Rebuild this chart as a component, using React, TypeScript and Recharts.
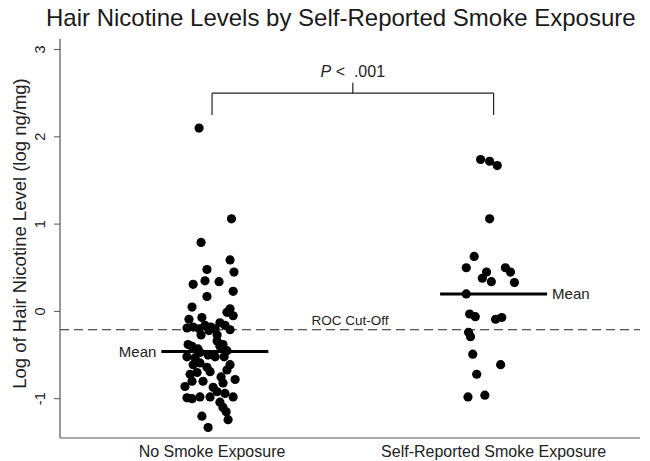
import React from 'react';
import { ScatterChart, Scatter, XAxis, YAxis, ReferenceLine } from 'recharts';

const FONT = '"Liberation Sans", Arial, Helvetica, sans-serif';

const title = 'Hair Nicotine Levels by Self-Reported Smoke Exposure';
const yAxisTitle = 'Log of Hair Nicotine Level (log ng/mg)';
const categories = ['No Smoke Exposure', 'Self-Reported Smoke Exposure'];
const yTicks = [-1, 0, 1, 2, 3];

// Group 1: No smoke exposure (log values and horizontal jitter)
const noExposureValues = [
  2.1, 1.06, 0.79, 0.59, 0.48, 0.45, 0.31, 0.35, 0.34, 0.23, 0.17, 0.05, 0.03, -0.01, -0.05, -0.09, -0.07,
  -0.19, -0.18, -0.2, -0.16, -0.22, -0.13, -0.2, -0.21, -0.16, -0.27, -0.27, -0.18,
  -0.34, -0.38, -0.38, -0.4, -0.43, -0.4, -0.45, -0.47, -0.5, -0.52, -0.53, -0.52, -0.52, -0.59, -0.61, -0.61,
  -0.64, -0.67, -0.72, -0.7, -0.69, -0.75, -0.78, -0.86, -0.8, -0.8, -0.87, -0.82, -0.92, -0.94, -0.99, -1.0,
  -0.98, -0.98, -0.98, -1.04, -1.1, -1.15, -1.2, -1.24, -1.33,
];
const noExposureJitter = [
  -0.046, 0.069, -0.039, 0.064, -0.018, 0.078, -0.067, -0.025, 0.025, 0.075, -0.018, -0.071, 0.064, 0.053, 0.075, -0.082, -0.036,
  -0.089, -0.067, -0.046, -0.025, -0.011, 0.028, 0.011, 0.064, 0.046, -0.039, 0.018, -0.004,
  0.018, 0.039, -0.085, -0.071, -0.05, 0.028, 0.053, -0.043, -0.014, 0.011, -0.06, -0.089, 0.043, -0.043, -0.067, 0.064,
  -0.018, 0.053, -0.078, -0.053, -0.007, 0.032, 0.082, -0.096, -0.071, -0.032, 0.004, 0.039, 0.018, 0.046, -0.089, -0.071,
  -0.043, -0.007, 0.075, 0.028, 0.039, 0.05, -0.036, 0.057, -0.014,
];

// Group 2: Self-reported smoke exposure
const exposedValues = [
  1.74, 1.72, 1.67, 1.06, 0.63, 0.5, 0.45, 0.5, 0.45, 0.38, 0.34, 0.33,
  0.2, -0.03, -0.06, -0.09, -0.07, -0.24, -0.29, -0.49, -0.61, -0.72, -0.98, -0.96,
];
const exposedJitter = [
  -0.046, -0.014, 0.013, -0.014, -0.069, -0.097, -0.025, 0.042, 0.06, -0.04, -0.008, 0.074,
  -0.097, -0.085, -0.065, 0.007, 0.029, -0.089, -0.082, -0.074, 0.025, -0.06, -0.091, -0.031,
];

const groupMeans = [-0.46, 0.2];
const meanCenters = [1.01, 2.0];
const meanHalfWidth = 0.19;
const rocCutOff = -0.21;
const bracketLevel = 2.5;
const bracketLegBottom = 2.25;
const bracketTickTop = 2.62;
const pValue = '.001';

const groups = [
  { values: noExposureValues, jitter: noExposureJitter },
  { values: exposedValues, jitter: exposedJitter },
];

const data = groups.flatMap((g, gi) =>
  g.values.map((v, i) => ({ x: gi + 1 + g.jitter[i], y: v }))
);

const Dot = (props: any) => <circle cx={props.cx} cy={props.cy} r={4.6} fill="#000" />;

const YTick = (props: any) => {
  const { x, y, payload } = props;
  const cx = x - 12;
  return (
    <text
      x={cx}
      y={y}
      transform={`rotate(-90, ${cx}, ${y})`}
      textAnchor="middle"
      dy="0.36em"
      fontSize={14.5}
      fill="#222"
      fontFamily={FONT}
    >
      {payload.value}
    </text>
  );
};

const YTitle = (props: any) => {
  const vb = props.viewBox || {};
  const cx = (vb.x ?? 0) + 19;
  const cy = (vb.y ?? 0) + (vb.height ?? 0) / 2 - 5;
  return (
    <text
      x={cx}
      y={cy}
      transform={`rotate(-90, ${cx}, ${cy})`}
      textAnchor="middle"
      dy="0.36em"
      fontSize={18.5}
      fill="#222"
      fontFamily={FONT}
    >
      {yAxisTitle}
    </text>
  );
};

const PLabel = (props: any) => {
  const vb = props.viewBox || {};
  const cx = (vb.x ?? 0) + (vb.width ?? 0) / 2;
  const cy = (vb.y ?? 0) - 6;
  return (
    <text x={cx} y={cy} textAnchor="middle" fontSize={16} fill="#222" fontFamily={FONT}>
      <tspan fontStyle="italic">P</tspan>
      <tspan>{'\u00a0<\u00a0\u00a0' + pValue}</tspan>
    </text>
  );
};

export default function App() {
  return (
    <div
      style={{
        position: 'absolute',
        left: 0,
        top: 0,
        width: 650,
        height: 461,
        background: '#fff',
        fontFamily: FONT,
      }}
    >
      <div
        style={{
          position: 'absolute',
          left: 46,
          top: 4,
          fontSize: 24,
          lineHeight: '28px',
          color: '#1a1a1a',
          whiteSpace: 'nowrap',
        }}
      >
        {title}
      </div>
      <ScatterChart width={650} height={461} margin={{ top: 39, right: 10, bottom: 0, left: 0 }}>
        <XAxis
          type="number"
          dataKey="x"
          domain={[0.46, 2.52]}
          ticks={[1, 2]}
          tickFormatter={(v: number) => categories[Math.round(v) - 1] ?? ''}
          tickLine={false}
          axisLine={{ stroke: '#555', strokeWidth: 1.2 }}
          tick={{ fontSize: 16, fill: '#222', fontFamily: FONT }}
          height={23}
          allowDataOverflow
        />
        <YAxis
          type="number"
          dataKey="y"
          domain={[-1.45, 3.12]}
          ticks={yTicks}
          tick={<YTick />}
          tickSize={6}
          tickLine={{ stroke: '#555' }}
          axisLine={{ stroke: '#555', strokeWidth: 1.2 }}
          width={60}
          allowDataOverflow
          label={<YTitle />}
        />
        <ReferenceLine
          y={rocCutOff}
          stroke="#222"
          strokeWidth={1.2}
          strokeDasharray="9 5"
          label={{ value: 'ROC Cut-Off', position: 'top', fontSize: 13.5, fill: '#222', fontFamily: FONT, offset: 5 }}
        />
        <ReferenceLine
          segment={[
            { x: meanCenters[0] - meanHalfWidth, y: groupMeans[0] },
            { x: meanCenters[0] + meanHalfWidth, y: groupMeans[0] },
          ]}
          stroke="#000"
          strokeWidth={3}
          label={{ value: 'Mean', position: 'left', fontSize: 15, fill: '#222', fontFamily: FONT, offset: 5 }}
        />
        <ReferenceLine
          segment={[
            { x: meanCenters[1] - meanHalfWidth, y: groupMeans[1] },
            { x: meanCenters[1] + meanHalfWidth, y: groupMeans[1] },
          ]}
          stroke="#000"
          strokeWidth={3}
          label={{ value: 'Mean', position: 'right', fontSize: 15, fill: '#222', fontFamily: FONT, offset: 5 }}
        />
        <ReferenceLine
          segment={[
            { x: 1, y: bracketLevel },
            { x: 2, y: bracketLevel },
          ]}
          stroke="#222"
          strokeWidth={1.2}
        />
        <ReferenceLine
          segment={[
            { x: 1, y: bracketLevel },
            { x: 1, y: bracketLegBottom },
          ]}
          stroke="#222"
          strokeWidth={1.2}
        />
        <ReferenceLine
          segment={[
            { x: 2, y: bracketLevel },
            { x: 2, y: bracketLegBottom },
          ]}
          stroke="#222"
          strokeWidth={1.2}
        />
        <ReferenceLine
          segment={[
            { x: 1.5, y: bracketLevel },
            { x: 1.5, y: bracketTickTop },
          ]}
          stroke="#222"
          strokeWidth={1.2}
          label={<PLabel />}
        />
        <Scatter data={data} shape={<Dot />} isAnimationActive={false} />
      </ScatterChart>
    </div>
  );
}
